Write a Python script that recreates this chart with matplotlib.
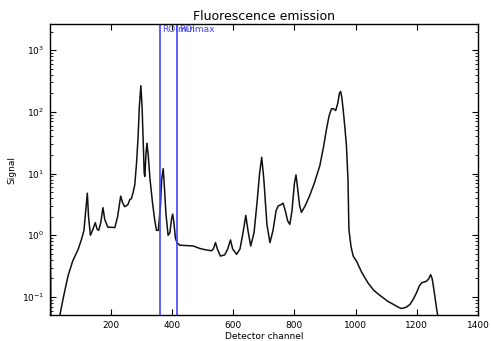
import matplotlib
matplotlib.use("Agg")
import matplotlib.pyplot as plt
from matplotlib.ticker import LogLocator

channels = [0, 2, 4, 33, 45, 60, 75, 93, 104, 112, 118, 123, 127, 133, 140, 149, 155, 160,
            167, 174, 180, 190, 200, 213, 222, 232, 238, 245, 255, 262, 267, 272, 278, 284,
            289, 293, 298, 302, 306, 309, 311, 315, 318, 322, 328, 336, 343, 349, 355, 362,
            366, 371, 375, 380, 387, 393, 398, 402, 406, 411, 416, 425, 450, 469, 491, 510,
            529, 535, 542, 548, 558, 572, 582, 591, 598, 611, 622, 632, 641, 648, 657, 668,
            678, 686, 693, 700, 710, 720, 730, 740, 747, 755, 763, 770, 778, 785, 792, 800,
            805, 810, 817, 823, 835, 850, 865, 883, 895, 905, 913, 921, 928, 935, 942, 947,
            951, 955, 960, 965, 970, 975, 978, 985, 992, 1003, 1020, 1040, 1058, 1075, 1090,
            1105, 1123, 1140, 1150, 1165, 1178, 1190, 1199, 1208, 1216, 1225, 1232, 1240,
            1245, 1250, 1256, 1262, 1265, 1270]
signal = [6.0, 2.0, 0.03, 0.05, 0.1, 0.22, 0.38, 0.59, 0.86, 1.2, 2.5, 4.8, 2.0, 1.0, 1.2,
          1.6, 1.25, 1.2, 1.6, 2.8, 1.8, 1.35, 1.35, 1.33, 2.0, 4.3, 3.4, 2.9, 3.1, 3.8, 3.9,
          4.8, 6.5, 15, 40, 120, 265, 120, 30, 10, 9, 22, 31, 20, 8, 3.4, 1.8, 1.2, 1.2, 3,
          8, 12, 6, 2.2, 1.0, 1.1, 1.8, 2.2, 1.6, 0.9, 0.76, 0.69, 0.68, 0.67, 0.61, 0.58,
          0.56, 0.6, 0.76, 0.6, 0.46, 0.48, 0.6, 0.84, 0.6, 0.49, 0.6, 1.1, 2.1, 1.2, 0.67,
          1.1, 3.5, 10, 18.3, 8, 1.5, 0.76, 1.2, 2.5, 3.0, 3.1, 3.3, 2.5, 1.7, 1.5, 2.5, 7,
          9.5, 6, 3, 2.34, 3.0, 4.4, 7, 13.4, 27, 53, 85, 112, 112, 105, 140, 200,
          214, 170, 100, 55, 28, 8, 1.25, 0.65, 0.46, 0.38, 0.25, 0.17, 0.13, 0.11, 0.097,
          0.085, 0.076, 0.068, 0.065, 0.068, 0.076, 0.095, 0.117, 0.15, 0.17, 0.175, 0.18,
          0.2, 0.23, 0.2, 0.13, 0.08, 0.063, 0.045]

roi_min = 360
roi_max = 415
xticks = [200, 400, 600, 800, 1000, 1200, 1400]

fig = plt.figure(figsize=(4.91, 3.41), dpi=100)
ax = fig.add_axes([50/491, 26/341, 428/491, 291/341])
ax.plot(channels, signal, color='#111111', lw=1.1)
ax.set_yscale('log')
ax.set_xlim(1, 1400)
ax.set_ylim(0.051, 2650)
ax.set_xticks(xticks)
ax.yaxis.set_minor_locator(LogLocator(base=10, subs=range(2, 10), numticks=20))

ax.axvline(roi_min, color='#4444ff', lw=1.2)
ax.axvline(roi_max, color='#4444ff', lw=1.2)
ax.text(roi_min + 8, 2550, 'ROImin', color='#4444ff', fontsize=6.5, va='top', ha='left')
ax.text(roi_max + 8, 2550, 'ROImax', color='#4444ff', fontsize=6.5, va='top', ha='left')

ax.tick_params(which='both', direction='in', top=True, right=True, labelsize=6.5, pad=4)
ax.tick_params(which='major', length=4)
ax.tick_params(which='minor', length=2)
for s in ax.spines.values():
    s.set_linewidth(1.0)
ax.set_title('Fluorescence emission', fontsize=9, pad=3)
ax.set_xlabel('Detector channel', fontsize=6.5, labelpad=2)
ax.set_ylabel('Signal', fontsize=6.5, labelpad=4)

fig.savefig('out.png', dpi=100)
